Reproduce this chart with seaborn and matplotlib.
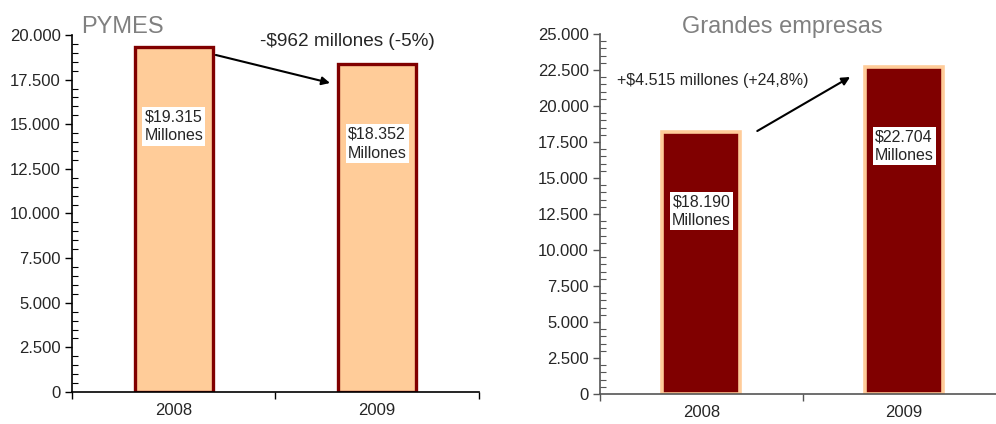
import matplotlib.pyplot as plt
import seaborn as sns
import pandas as pd
import numpy as np
from matplotlib.ticker import MultipleLocator, FuncFormatter, FixedLocator

years = ["2008", "2009"]
pymes = [19315, 18352]
grandes = [18190, 22704]
pymes_labels = ["$19.315\nMillones", "$18.352\nMillones"]
grandes_labels = ["$18.190\nMillones", "$22.704\nMillones"]
pymes_note = "-$962 millones (-5%)"
grandes_note = "+$4.515 millones (+24,8%)"

PEACH = "#FFCC99"
MAROON = "#800000"

sns.set_theme(style="white")
plt.rcParams['font.family'] = ['Liberation Sans', 'DejaVu Sans']


def thousands(v, pos):
    return f"{int(v):,}".replace(",", ".")


def style_axis(ax, ymax, spine_color):
    ax.set_ylim(0, ymax)
    ax.set_xlim(-0.5, 1.5)
    ax.yaxis.set_major_locator(MultipleLocator(2500))
    ax.yaxis.set_minor_locator(MultipleLocator(500))
    ax.yaxis.set_major_formatter(FuncFormatter(thousands))
    ax.tick_params(axis="y", which="major", direction="out", length=5, width=1,
                   color=spine_color, labelsize=12, pad=3, left=True)
    ax.tick_params(axis="y", which="minor", direction="in", length=4, width=0.8,
                   color=spine_color, left=True)
    # category boundaries as ticks, year labels in the middle
    ax.xaxis.set_major_locator(FixedLocator([-0.5, 0.5, 1.5]))
    ax.xaxis.set_minor_locator(FixedLocator([0, 1]))
    ax.set_xticklabels([], minor=False)
    ax.set_xticklabels(years, minor=True)
    ax.tick_params(axis="x", which="major", direction="out", length=5, width=1,
                   color=spine_color, bottom=True)
    ax.tick_params(axis="x", which="minor", length=0, labelsize=12, pad=8)
    for s in ["top", "right"]:
        ax.spines[s].set_visible(False)
    for s in ["left", "bottom"]:
        ax.spines[s].set_color(spine_color)
        ax.spines[s].set_linewidth(1.2)
    ax.set_xlabel("")
    ax.set_ylabel("")
    ax.grid(False)


fig = plt.figure(figsize=(9.96, 4.24), dpi=100)
ax1 = fig.add_axes([0.0723, 0.0755, 0.4086, 0.842])
ax2 = fig.add_axes([0.6024, 0.0708, 0.4070, 0.849])

df1 = pd.DataFrame({"Año": years, "Valor": pymes})
df2 = pd.DataFrame({"Año": years, "Valor": grandes})

sns.barplot(data=df1, x="Año", y="Valor", ax=ax1, color=PEACH, saturation=1,
            edgecolor=MAROON, linewidth=2.4, width=0.385)
sns.barplot(data=df2, x="Año", y="Valor", ax=ax2, color=MAROON, saturation=1,
            edgecolor=PEACH, linewidth=2.6, width=0.385)

style_axis(ax1, 20000, "black")
style_axis(ax2, 25000, "#555555")

box = dict(facecolor="white", edgecolor="none", pad=1.5)
for ax, vals, labs in [(ax1, pymes, pymes_labels), (ax2, grandes, grandes_labels)]:
    for i, (v, lab) in enumerate(zip(vals, labs)):
        ax.annotate(lab, xy=(i, v), xytext=(0, -57), textcoords="offset points",
                    ha="center", va="center", fontsize=11.5, linespacing=1.35,
                    bbox=box)

# change arrows
ax1.annotate("", xy=(0.768, 17310), xytext=(0.207, 18879),
             arrowprops=dict(arrowstyle="-|>", color="black", lw=1.5,
                             mutation_scale=12, shrinkA=0, shrinkB=0))
ax1.text(0.855, 19607, pymes_note, ha="center", va="center", fontsize=13.7)

ax2.annotate("", xy=(0.734, 22013), xytext=(0.276, 18263),
             arrowprops=dict(arrowstyle="-|>", color="black", lw=1.5,
                             mutation_scale=12, shrinkA=0, shrinkB=0))
ax2.text(0.057, 21805, grandes_note, ha="center", va="center", fontsize=11.5)

fig.text(0.0813, 0.922, "PYMES", ha="left", va="baseline", fontsize=17,
         color="#808080", family=["Liberation Sans Narrow", "Liberation Sans"])
fig.text(0.7857, 0.922, "Grandes empresas", ha="center", va="baseline", fontsize=17,
         color="#808080", family=["Liberation Sans Narrow", "Liberation Sans"])

fig.savefig("out.png", dpi=100)
